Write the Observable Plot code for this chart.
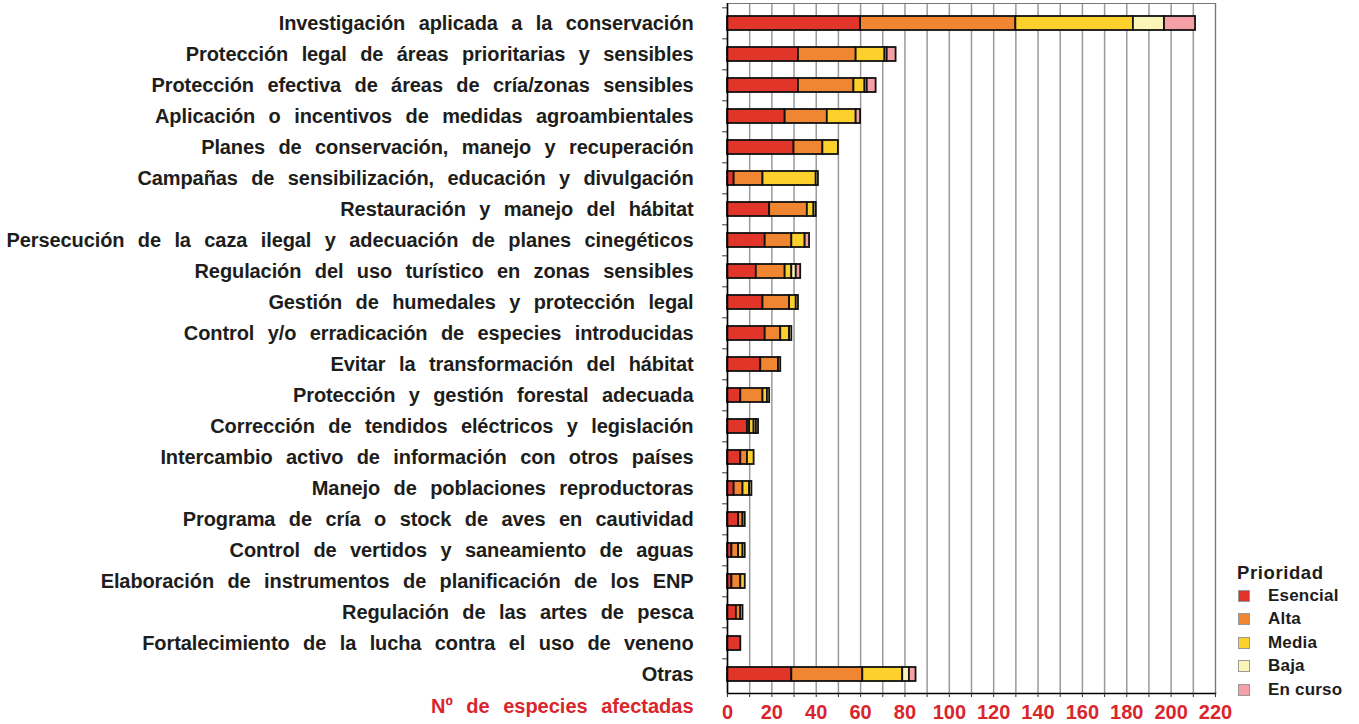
<!DOCTYPE html>
<html>
<head>
<meta charset="utf-8">
<script src="https://cdn.jsdelivr.net/npm/d3@7"></script>
<script src="https://cdn.jsdelivr.net/npm/@observablehq/plot@0.6"></script>
<style>
  html, body { margin: 0; padding: 0; background: #fff; }
  #wrap { position: relative; width: 1359px; height: 724px; font-family: "Liberation Sans", Arial, sans-serif; }
  g[aria-label="y-axis tick label"] text { word-spacing: 8px; letter-spacing: -0.1px; }
  g[aria-label="text"] text { word-spacing: 8px; }
  #legend { position: absolute; left: 1237px; top: 561px; font-weight: bold; font-size: 17px; color: #1d1d1b; }
  #legend .title { height: 23px; line-height: 23px; font-size: 18.5px; letter-spacing: 0.6px; }
  #legend .item { height: 23.5px; display: flex; align-items: center; letter-spacing: 0.2px; }
  #legend .sw { width: 12px; height: 12px; box-sizing: border-box; border: 1px solid #999; margin-left: 1px; margin-right: 18px; }
</style>
</head>
<body>
<div id="wrap"></div>
<script>
const categories = [
  "Investigación aplicada a la conservación",
  "Protección legal de áreas prioritarias y sensibles",
  "Protección efectiva de áreas de cría/zonas sensibles",
  "Aplicación o incentivos de medidas agroambientales",
  "Planes de conservación, manejo y recuperación",
  "Campañas de sensibilización, educación y divulgación",
  "Restauración y manejo del hábitat",
  "Persecución de la caza ilegal y adecuación de planes cinegéticos",
  "Regulación del uso turístico en zonas sensibles",
  "Gestión de humedales y protección legal",
  "Control y/o erradicación de especies introducidas",
  "Evitar la transformación del hábitat",
  "Protección y gestión forestal adecuada",
  "Corrección de tendidos eléctricos y legislación",
  "Intercambio activo de información con otros países",
  "Manejo de poblaciones reproductoras",
  "Programa de cría o stock de aves en cautividad",
  "Control de vertidos y saneamiento de aguas",
  "Elaboración de instrumentos de planificación de los ENP",
  "Regulación de las artes de pesca",
  "Fortalecimiento de la lucha contra el uso de veneno",
  "Otras"
];
const series = ["Esencial", "Alta", "Media", "Baja", "En curso"];
const colors = ["#e2352a", "#f08632", "#fdd12c", "#fcf5b8", "#f4a0a6"];

const esencial = [60, 32, 32, 26, 30, 3, 19, 17, 13, 16, 17, 15, 6, 9, 6, 3, 5, 2, 2, 4, 6, 29];
const alta     = [70, 26, 25, 19, 13, 13, 17, 12, 13, 12, 7, 8, 10, 1, 3, 4, 2, 3, 4, 2, 0, 32];
const media    = [53, 13, 5, 13, 7, 24, 3, 6, 3, 3, 4, 1, 2, 2, 3, 3, 1, 2, 2, 0, 0, 18];
const baja     = [14, 1, 1, 0, 0, 1, 1, 0, 2, 1, 1, 0, 1, 1, 0, 1, 0, 1, 0, 1, 0, 3];
const enCurso  = [14, 4, 4, 2, 0, 0, 0, 2, 2, 0, 0, 0, 0, 1, 0, 0, 0, 0, 0, 0, 0, 3];

const xTicks = d3.range(0, 221, 20);
const xGrid = d3.range(0, 221, 10);
const xLabel = "Nº de especies afectadas";

const valuesBySeries = [esencial, alta, media, baja, enCurso];
const data = [];
categories.forEach((c, i) => {
  series.forEach((s, j) => {
    data.push({categoria: c, prioridad: s, valor: valuesBySeries[j][i]});
  });
});

const W = 1359, H = 724;
const mTop = 3, mBottom = 31, mLeft = 727, mRight = 144;
const step = (H - mTop - mBottom) / categories.length;
const red = "#d9252c";
const ink = "#1d1d1b";

const chart = Plot.plot({
  width: W,
  height: H,
  marginTop: mTop,
  marginBottom: mBottom,
  marginLeft: mLeft,
  marginRight: mRight,
  style: {fontFamily: "'Liberation Sans', Arial, sans-serif", background: "#fff"},
  x: {domain: [0, 220], axis: null},
  y: {domain: categories, paddingInner: 0.56, paddingOuter: 0.28, axis: null},
  color: {domain: series, range: colors},
  marks: [
    Plot.gridX(xGrid, {stroke: "#9a9a9a", strokeOpacity: 1, strokeWidth: 1.5}),
    Plot.frame({stroke: "#777", strokeWidth: 1}),
    Plot.ruleY(categories, {y: d => d, x1: -2.2, x2: 0, dy: -step / 2, stroke: "#333", strokeWidth: 1}),
    Plot.barX(data, {y: "categoria", x: "valor", fill: "prioridad", stroke: "#111", strokeWidth: 1.8}),
    Plot.ruleX([0], {stroke: "#000", strokeWidth: 1.5}),
    Plot.frame({anchor: "bottom", stroke: "#000", strokeWidth: 1.5}),
    Plot.axisX(xGrid, {tickSize: 4, text: null, stroke: "#333", label: null}),
    Plot.axisX(xTicks, {tickSize: 0, tickPadding: 11, fontSize: 20, fontWeight: "bold", fill: red, label: null}),
    Plot.axisY(categories, {tickSize: 0, tickPadding: 34, fontSize: 20, fontWeight: "bold", fill: ink, label: null}),
    Plot.text([xLabel], {frameAnchor: "bottom-left", dx: -34, dy: 19, textAnchor: "end", fontSize: 20, fontWeight: "bold", fill: red})
  ]
});

const wrap = document.getElementById("wrap");
wrap.appendChild(chart);

const legend = document.createElement("div");
legend.id = "legend";
let html = '<div class="title">Prioridad</div>';
series.forEach((s, i) => {
  html += `<div class="item"><span class="sw" style="background:${colors[i]}"></span><span>${s}</span></div>`;
});
legend.innerHTML = html;
wrap.appendChild(legend);
</script>
</body>
</html>
